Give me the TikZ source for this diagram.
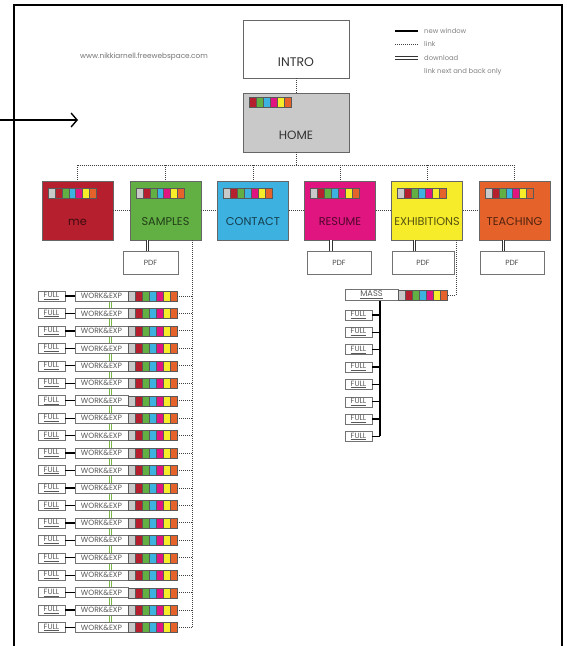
\documentclass[tikz,border=0pt]{standalone}
\usepackage{fontspec}
\setmainfont{Poppins}
\usetikzlibrary{arrows.meta}
\definecolor{cR}{HTML}{B51F2E}
\definecolor{cG}{HTML}{62B044}
\definecolor{cB}{HTML}{3DB1DF}
\definecolor{cM}{HTML}{E1157F}
\definecolor{cY}{HTML}{F7EC2A}
\definecolor{cO}{HTML}{E5632B}
\definecolor{cGr}{HTML}{C9C9C9}
\definecolor{cLink}{HTML}{7AB648}
\newcommand{\cstrip}[4]{% x left, y top, cell width, first cell (0 with gray,1 without)
  \foreach \cc [count=\ii from 0] in {cGr,cR,cG,cB,cM,cY,cO} {
    \ifnum\ii<#4\relax\else
      \fill[\cc,draw=black!65,line width=0.3pt] ({#1+(\ii-#4)*#3},#2) rectangle ++(#3,10);
    \fi}
}
\begin{document}
\begin{tikzpicture}[x=1pt,y=-1pt,
  dotline/.style={black!75,line width=0.9pt,dash pattern=on 0.9pt off 1.1pt},
  dlline/.style={double=white,double distance=1.8pt,line width=0.8pt,draw=black!80},
  grline/.style={double=white,double distance=1.6pt,line width=0.6pt,draw=cLink},
  secbox/.style={draw=black!60,line width=0.6pt,minimum width=71pt,minimum height=59pt,inner sep=0pt},
  seclab/.style={font=\fontsize{11.3}{12}\selectfont,inner sep=0pt},
  pdfbox/.style={draw=black!55,fill=white,line width=0.5pt,minimum height=23pt,inner sep=0pt,font=\fontsize{7.5}{8}\selectfont,text=black!70},
  smallbox/.style={draw=black!55,fill=white,line width=0.5pt,minimum height=10pt,inner sep=0pt,font=\fontsize{7.6}{8}\selectfont,text=black!65},
  newwin/.style={line width=1.6pt,black},
  legtext/.style={anchor=west,font=\fontsize{6.8}{7}\selectfont,text=black!50,inner sep=0pt}
]
\useasboundingbox (0,0) rectangle (566,646);
% frame
\draw[line width=1.4pt] (14,646) -- (14,5) -- (562,5) -- (562,646);
% arrow
\coordinate (arrS) at (0,120);
\coordinate (arrE) at (78,120);
\draw[line width=1.4pt,-{Straight Barb[length=6pt,width=14pt,line width=1.4pt]}] (arrS) -- (arrE);
% url
\node[anchor=west,font=\fontsize{7.3}{8}\selectfont,text=black!55,inner sep=0pt] (url) at (80,57) {www.nikkiarnell.freewebspace.com};
% legend
\coordinate (l1a) at (395,31); \coordinate (l1b) at (418,31);
\coordinate (l2a) at (395,44); \coordinate (l2b) at (418,44);
\coordinate (l3a) at (395,58); \coordinate (l3b) at (418,58);
\coordinate (l4a) at (395,72); \coordinate (l4b) at (418,72);
\draw[newwin] (l1a) -- (l1b);
\draw[dotline] (l2a) -- (l2b);
\draw[dlline] (l3a) -- (l3b);
\draw[grline] (l4a) -- (l4b);
\node[legtext] (t1) at (424,31) {new window};
\node[legtext] (t2) at (424,44) {link};
\node[legtext] (t3) at (424,58) {download};
\node[legtext] (t4) at (424,72) {link next and back only};
% intro / home
\node[draw=black!60,line width=0.6pt,fill=white,minimum width=106pt,minimum height=58pt,inner sep=0pt] (intro) at (296,49) {};
\node[font=\fontsize{12.5}{13}\selectfont,text=black!80,inner sep=0pt] (introL) at (296,62) {INTRO};
\node[draw=black!60,line width=0.6pt,fill=cGr,minimum width=106pt,minimum height=59pt,inner sep=0pt] (home) at (296,122.5) {};
\node[font=\fontsize{12}{13}\selectfont,text=black!80,inner sep=0pt] (homeL) at (296,135) {HOME};
\cstrip{249}{97}{7}{1}
\draw[dotline] (intro.south) -- (home.north);
% sections
\foreach \nm/\xx/\col/\lab in {me/77.5/cR/me,samples/165.5/cG/SAMPLES,contact/253/cB/CONTACT,resume/340/cM/RESUME,exhib/427/cY/EXHIBITIONS,teach/514.5/cO/TEACHING}{
  \node[secbox,fill=\col] (\nm) at (\xx,210.5) {};
  \node[seclab,text=\col!35!black] (\nm L) at (\xx,222) {\lab};
  \cstrip{\xx-29.5}{188}{6.9}{0}
}
% bus
\coordinate (bus) at (296,165);
\draw[dotline] (home.south) -- (bus);
\draw[dotline] (me.north |- bus) -- (teach.north |- bus);
\foreach \nm in {me,samples,contact,resume,exhib,teach}{
  \draw[dotline] (\nm.north |- bus) -- (\nm.north);
}
\foreach \a/\b in {me/samples,samples/contact,contact/resume,resume/exhib,exhib/teach}{
  \draw[dotline] (\a.east) -- (\b.west);
}
% PDFs
\node[pdfbox,minimum width=55pt] (pdfS) at (150.5,262.5) {PDF};
\node[pdfbox,minimum width=64pt] (pdfR) at (339,262.5) {PDF};
\node[pdfbox,minimum width=62pt] (pdfE) at (423,262.5) {PDF};
\node[pdfbox,minimum width=64pt] (pdfT) at (512,262.5) {PDF};
\draw[dlline] (pdfS.north -| 147.5,0) -- (samples.south -| 147.5,0);
\draw[dlline] (pdfR.north -| 331,0) -- (resume.south -| 331,0);
\draw[dlline] (pdfE.north -| 414.5,0) -- (exhib.south -| 414.5,0);
\draw[dlline] (pdfT.north -| 503.5,0) -- (teach.south -| 503.5,0);
% MASS
\node[smallbox,minimum width=53pt,minimum height=11pt,font=\fontsize{8.3}{9}\selectfont] (mass) at (371.5,295) {\underline{MASS}};
\cstrip{398}{290}{7}{0}
\coordinate (massE) at (447,295);
\coordinate (exdrop) at (456,240);
\draw[dotline] (exdrop) -- (exdrop |- massE) -- (massE);
\coordinate (mspine) at (380,300.5);
\foreach \i in {1,...,8}{
  \node[smallbox,minimum width=27pt] (mfull\i) at (358.5,{315+17.35*(\i-1)}) {\underline{FULL}};
  \draw[newwin,line width=1.3pt] (mfull\i.east) -- (mfull\i.east -| mspine);
}
\draw[newwin,line width=1.3pt] (mspine) -- (mspine |- mfull8.east);
% samples list
\coordinate (sdrop) at (192,240);
\coordinate (gtop) at (110.5,296);
\coordinate (gbot) at (110.5,628);
\draw[grline] (gtop) -- (gbot);
\foreach \i in {1,...,20}{
  \pgfmathsetmacro{\yy}{296+17.45*(\i-1)}
  \node[smallbox,minimum width=27pt] (full\i) at (51.5,\yy) {\underline{FULL}};
  \node[smallbox,minimum width=53pt] (work\i) at (101.5,\yy) {WORK\&EXP};
  \draw[newwin,line width=1.3pt] (full\i.east) -- (work\i.west);
  \cstrip{128}{\yy-5}{7}{0}
  \coordinate (se\i) at (177,\yy);
  \draw[dotline] (se\i) -- (se\i -| sdrop);
}
\draw[dotline] (sdrop) -- (sdrop |- se20);
\end{tikzpicture}
\end{document}
